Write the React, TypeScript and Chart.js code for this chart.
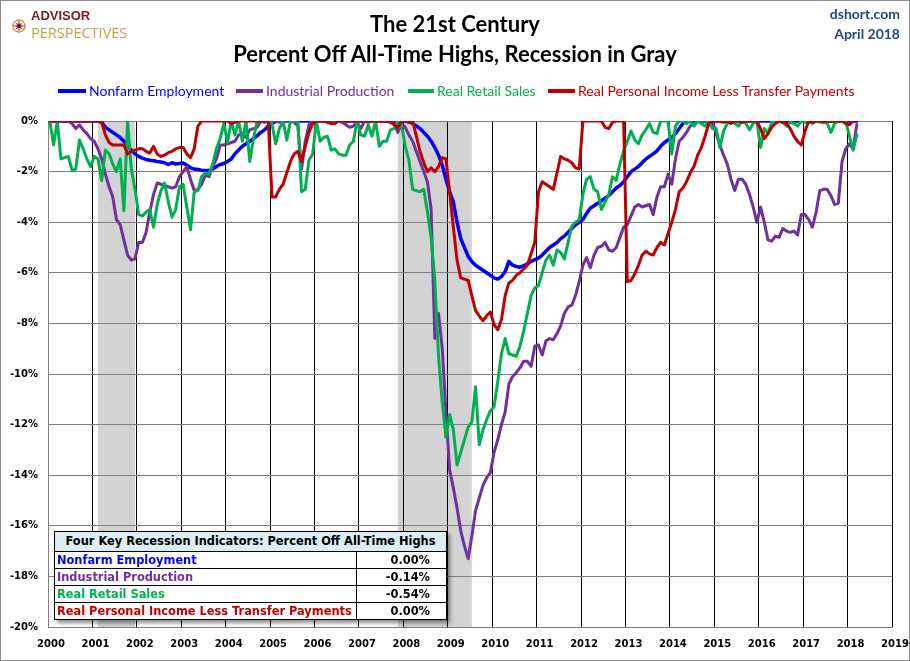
import React, { useEffect, useRef } from "react";
import { Chart, registerables } from "chart.js";

Chart.register(...registerables);

// ---------- DATA (monthly, Jan 2000 onward; each row = one year) ----------
const START_YEAR = 2000;

const nonfarmEmployment = [
  0, 0, 0, 0, 0, 0, 0, 0, 0, 0, 0, 0,
  0, 0, -0.05, -0.25, -0.35, -0.45, -0.55, -0.65, -0.8, -1.0, -1.15, -1.3,
  -1.4, -1.47, -1.52, -1.55, -1.57, -1.6, -1.62, -1.65, -1.72, -1.65, -1.7, -1.68,
  -1.66, -1.75, -1.85, -1.9, -1.92, -1.95, -1.96, -1.96, -1.9, -1.8, -1.72, -1.68,
  -1.6, -1.5, -1.3, -1.15, -1.0, -0.9, -0.8, -0.7, -0.58, -0.45, -0.35, -0.2,
  -0.1, -0.02, 0, 0, 0, 0, 0, 0, 0, 0, 0, 0,
  0, 0, 0, 0, 0, 0, 0, 0, 0, 0, 0, 0,
  0, 0, 0, 0, 0, 0, 0, 0, 0, 0, 0, 0,
  0, -0.03, -0.1, -0.2, -0.3, -0.45, -0.6, -0.8, -1.05, -1.35, -1.75, -2.3,
  -2.8, -3.2, -4.0, -4.65, -5.0, -5.35, -5.55, -5.7, -5.8, -5.9, -6.0, -6.1,
  -6.2, -6.25, -6.15, -5.95, -5.55, -5.7, -5.75, -5.78, -5.72, -5.65, -5.55, -5.48,
  -5.42, -5.3, -5.15, -5.0, -4.9, -4.8, -4.65, -4.55, -4.4, -4.25, -4.1, -4.0,
  -3.9, -3.65, -3.45, -3.35, -3.25, -3.15, -3.05, -2.95, -2.8, -2.65, -2.55, -2.4,
  -2.2, -2.0, -1.9, -1.8, -1.65, -1.5, -1.4, -1.3, -1.18, -1.0, -0.85, -0.75,
  -0.65, -0.5, -0.3, -0.1, -0.02, 0, 0, 0, 0, 0, 0, 0,
  0, 0, 0, 0, 0, 0, 0, 0, 0, 0, 0, 0,
  0, 0, 0, 0, 0, 0, 0, 0, 0, 0, 0, 0,
  0, 0, 0, 0, 0, 0, 0, 0, 0, 0, 0, 0,
  0, 0, 0,
];

const industrialProduction = [
  0, 0, 0, 0, 0, 0, -0.1, -0.3, -0.15, -0.35, -0.5, -0.7,
  -0.8, -1.1, -1.5, -2.1, -2.6, -3.0, -3.9, -4.1, -4.7, -5.3, -5.5, -5.45,
  -4.8, -4.8, -4.4, -3.6, -2.9, -2.45, -2.5, -2.55, -2.6, -2.65, -2.6, -2.2,
  -2.0, -1.8, -2.3, -2.75, -2.7, -2.5, -2.15, -2.2, -1.8, -1.5, -0.95, -0.95,
  -0.9, -0.85, -0.8, -0.55, -0.5, -0.65, -0.35, -0.3, -0.25, 0, -0.05, 0,
  0, 0, -0.05, 0, 0, 0, -0.05, -0.2, -1.9, -0.8, -0.15, 0,
  0, 0, 0, 0, 0, 0, 0, -0.05, -0.15, -0.25, -0.2, -0.05,
  -0.3, 0, -0.05, 0, 0, 0, 0, 0, 0, -0.1, -0.45, -0.1,
  -0.25, -0.55, -0.8, -1.2, -1.6, -2.0, -2.4, -3.5, -8.6, -7.6, -9.0, -11.5,
  -13.8, -14.5, -15.3, -16.2, -16.8, -17.3, -16.4, -15.4, -14.9, -14.4, -14.1, -13.9,
  -13.1, -12.6, -12.0, -11.5, -10.4, -10.1, -9.95, -9.75, -9.5, -9.5, -9.7, -8.9,
  -8.85, -9.25, -8.7, -8.6, -8.65, -8.4, -8.1, -7.6, -7.35, -7.28, -6.9, -6.35,
  -5.7, -5.4, -5.8, -5.3, -5.0, -4.95, -4.8, -5.1, -5.15, -5.0, -4.6, -4.2,
  -4.1, -3.75, -3.4, -3.3, -3.4, -3.35, -3.3, -3.7, -3.0, -2.6, -2.6, -2.1,
  -2.5, -1.5, -0.8, -0.65, -0.45, -0.2, -0.1, 0, 0, 0, -0.05, 0,
  -0.5, -0.95, -1.35, -1.7, -2.3, -2.75, -2.3, -2.3, -2.5, -2.9, -3.4, -4.0,
  -3.4, -4.0, -4.7, -4.75, -4.55, -4.6, -4.25, -4.35, -4.4, -4.35, -4.5, -3.7,
  -3.7, -3.9, -4.2, -3.6, -2.75, -2.7, -2.7, -2.95, -3.3, -3.25, -1.6, -1.1,
  -0.9, -1.1, -0.14,
];

const realRetailSales = [
  0, -0.95, 0, -1.5, -1.45, -1.4, -1.95, -1.9, -0.75, -1.1, -1.5, -1.8,
  -1.4, -1.5, -2.35, -1.15, -1.3, -1.7, -2.0, -1.5, -3.55, 0, -1.9, -2.7,
  -3.7, -3.75, -3.6, -3.5, -4.2, -3.3, -2.75, -2.45, -3.2, -3.8, -3.5, -2.6,
  -2.5, -3.4, -4.3, -2.8, -2.75, -2.2, -2.05, -2.1, -1.7, -1.1, -0.7, -0.1,
  -0.85, 0, -0.55, 0, -0.8, 0, -1.6, -0.7, 0, 0, 0, 0,
  -0.1, -0.9, -0.3, 0, -0.75, 0, 0, 0, -2.8, -2.7, -1.55, -1.3,
  0, -0.8, -0.65, -0.6, -1.15, -1.1, -1.3, -1.35, -1.35, -0.95, -0.8, 0,
  -0.55, -0.6, -0.15, -0.6, 0, -1.0, -0.8, -0.8, -0.35, -0.3, 0, -0.15,
  -1.0, -1.55, -2.7, -2.75, -2.8, -2.7, -3.6, -4.6, -6.3, -9.3, -11.1, -12.5,
  -11.6, -12.2, -13.6, -13.1, -12.6, -12.1, -11.9, -10.5, -12.8, -12.2, -11.8, -11.45,
  -11.3, -10.3, -9.2, -8.6, -9.2, -9.25, -9.3, -8.9, -8.3, -7.6, -6.9, -6.6,
  -6.5, -6.0, -5.5, -5.3, -5.7, -5.1, -5.2, -5.45, -4.8, -4.15, -4.0, -3.9,
  -2.9, -2.3, -2.2, -2.7, -2.8, -3.5, -3.2, -2.9, -2.2, -2.35, -1.7, -1.2,
  -0.8, -0.4, -0.75, -0.9, -0.55, -0.35, -0.1, -0.45, -0.5, 0, 0, 0,
  -1.3, -0.2, 0, 0, -0.1, 0, -0.2, 0, -0.1, -0.2, 0, -0.3,
  -0.3, -1.05, -0.4, -0.1, 0, -0.1, -0.2, 0, -0.1, -0.35, -0.1, 0,
  -1.05, -0.3, -0.5, -0.05, 0, 0, -0.05, -0.2, -0.05, -0.1, -0.2, 0,
  -0.05, 0, -0.1, 0, -0.05, 0, -0.1, -0.45, -0.1, 0, 0, 0,
  -0.6, -1.15, -0.54,
];

const realIncomeLessTransfers = [
  0, 0, 0, 0, 0, 0, 0, 0, 0, 0, 0, 0,
  0, 0, -0.05, -0.55, -0.85, -0.95, -0.95, -0.95, -0.95, -1.3, -1.2, -1.15,
  -1.1, -1.1, -1.2, -1.27, -1.0, -1.3, -1.4, -1.35, -1.25, -1.2, -1.1, -1.05,
  -1.05, -1.3, -1.45, -1.1, -0.2, 0, 0, 0, 0, 0, 0, 0,
  0, -0.1, -0.05, 0, 0, 0, 0, 0, 0, 0, 0, 0,
  -3.0, -3.0, -2.7, -2.5, -2.05, -1.6, -1.3, -1.2, -1.6, -1.0, -0.45, -0.1,
  0, 0, 0, -0.05, -0.1, -0.1, 0, 0, 0, 0, 0, 0,
  0, 0, 0, 0, 0, 0, 0, 0, -0.05, -0.15, -0.25, 0,
  0, -0.05, 0, -0.6, -1.2, -1.65, -2.0, -1.85, -2.0, -1.8, -1.45, -1.5,
  -2.8, -4.2, -5.5, -6.2, -6.25, -6.3, -6.9, -7.5, -7.7, -7.9, -7.7, -7.55,
  -8.05, -8.25, -7.85, -6.9, -6.4, -6.3, -6.1, -6.0, -5.85, -5.7, -5.25, -4.8,
  -2.8, -2.4, -2.5, -2.6, -2.7, -2.05, -1.4, -1.5, -1.55, -1.65, -1.85, -1.9,
  0, 0, 0, 0, 0, 0, -0.25, -0.3, -0.05, 0, 0, 0,
  -6.35, -6.3, -6.05, -5.7, -5.3, -5.15, -5.25, -5.3, -5.0, -4.8, -4.9, -4.45,
  -4.0, -3.5, -2.8, -2.65, -2.4, -2.05, -1.8, -1.35, -1.05, -0.6, -0.1, 0,
  0, 0, -0.05, 0, -0.1, 0, 0, -0.05, 0, 0, 0, 0,
  -0.3, -0.7, -0.5, -0.25, -0.1, 0, -0.05, -0.1, -0.3, -0.6, -0.8, -0.95,
  -0.4, 0, -0.05, 0, 0, -0.05, 0, 0, 0, 0, 0, -0.1,
  -0.15, 0,
];

const seriesNames = [
  "Nonfarm Employment",
  "Industrial Production",
  "Real Retail Sales",
  "Real Personal Income Less Transfer Payments",
];
const seriesColors = ["#0000FF", "#7030A0", "#00B050", "#C00000"];
const latestValues = ["0.00%", "-0.14%", "-0.54%", "0.00%"];

// recession months (first month, last month)
const recessions = [
  ["2001-03", "2001-11"],
  ["2007-12", "2009-06"],
];

const yearTicks = [
  2000, 2001, 2002, 2003, 2004, 2005, 2006, 2007, 2008, 2009,
  2010, 2011, 2012, 2013, 2014, 2015, 2016, 2017, 2018, 2019,
];
const yMin = -20;
const yMax = 0;
const yStep = 2;

// ---------- helpers ----------
const toPoints = (arr: number[]) =>
  arr.map((v, i) => ({ x: START_YEAR + (i + 0.5) / 12, y: v }));
const monthStart = (s: string) => {
  const [y, m] = s.split("-").map(Number);
  return y + (m - 1) / 12;
};

const recessionPlugin = {
  id: "recessionShade",
  beforeDraw(chart: any) {
    const { ctx, chartArea, scales } = chart;
    const xs = scales.x;
    ctx.save();
    ctx.fillStyle = "#D3D3D3";
    for (const [s, e] of recessions) {
      const x1 = xs.getPixelForValue(monthStart(s) - 1 / 24);
      const x2 = xs.getPixelForValue(monthStart(e) + 1 / 12 + 1 / 24);
      ctx.fillRect(x1, chartArea.top, x2 - x1, chartArea.bottom - chartArea.top);
    }
    ctx.restore();
  },
};

const TICK_FONT = { family: "'DejaVu Sans', Verdana, sans-serif", size: 10, weight: "bold" as const };

function Logo() {
  const pts: string[] = [];
  for (let k = 0; k < 16; k++) {
    const r = k % 2 === 0 ? (k % 4 === 0 ? 6.2 : 4.2) : 1.6;
    const a = (k * Math.PI) / 8 - Math.PI / 2;
    pts.push(`${(7 + r * Math.cos(a)).toFixed(2)},${(7 + r * Math.sin(a)).toFixed(2)}`);
  }
  return (
    <div style={{ position: "absolute", left: 11, top: 8, display: "flex", alignItems: "center" }}>
      <svg width="16" height="16" viewBox="0 0 14 14" style={{ marginRight: 4, marginTop: 1 }}>
        <circle cx="7" cy="7" r="5.3" fill="none" stroke="#C9A245" strokeWidth="1.3" />
        <polygon points={pts.join(" ")} fill="#7E1820" />
      </svg>
      <div style={{ lineHeight: "12px" }}>
        <div style={{ font: "bold 13px 'Liberation Sans', Arial, sans-serif", color: "#7E1820" }}>ADVISOR</div>
        <div style={{ font: "14.5px 'Open Sans', sans-serif", color: "#C9A245", letterSpacing: 0 }}>PERSPECTIVES</div>
      </div>
    </div>
  );
}

export default function App() {
  const ref = useRef<HTMLCanvasElement>(null);

  useEffect(() => {
    if (!ref.current) return;
    const order = [3, 2, 1, 0]; // later series drawn on top (first dataset is topmost)
    const arrays = [nonfarmEmployment, industrialProduction, realRetailSales, realIncomeLessTransfers];
    const chart = new Chart(ref.current, {
      type: "line",
      data: {
        datasets: order.map((k) => ({
          label: seriesNames[k],
          data: toPoints(arrays[k]),
          borderColor: seriesColors[k],
          backgroundColor: seriesColors[k],
          borderWidth: k === 0 ? 3.5 : 3,
          pointRadius: 0,
          tension: 0,
          fill: false,
          borderJoinStyle: "round" as const,
          borderCapStyle: "round" as const,
        })),
      },
      options: {
        animation: false,
        responsive: false,
        devicePixelRatio: 1,
        layout: { padding: { left: 0, right: 18, top: 121, bottom: 0 } },
        plugins: {
          legend: { display: false },
          title: { display: false },
          tooltip: { enabled: false },
        },
        scales: {
          x: {
            type: "linear",
            min: yearTicks[0],
            max: yearTicks[yearTicks.length - 1],
            afterFit: (s: any) => {
              s.height = 34;
              s.paddingLeft = 0;
              s.paddingRight = 0;
            },
            afterBuildTicks: (s: any) => {
              s.ticks = yearTicks.map((v) => ({ value: v }));
            },
            ticks: {
              autoSkip: false,
              maxRotation: 0,
              padding: 11,
              labelOffset: 3,
              color: "#000",
              font: TICK_FONT,
              callback: (v: any) => String(v),
            },
            grid: {
              drawTicks: false,
              lineWidth: 1,
              color: (c: any) => (c.tick && c.tick.value === yearTicks[0] ? "#808080" : "#000000"),
            },
            border: { color: "#808080" },
          },
          y: {
            min: yMin,
            max: yMax,
            afterFit: (s: any) => {
              s.width = 48;
              s.paddingTop = 0;
              s.paddingBottom = 0;
            },
            ticks: {
              stepSize: yStep,
              padding: 10,
              color: "#000",
              font: TICK_FONT,
              callback: (v: any) => `${v}%`,
            },
            grid: { drawTicks: false, color: "#808080", lineWidth: 1 },
            border: { color: "#808080" },
          },
        },
      },
      plugins: [recessionPlugin],
    });
    return () => chart.destroy();
  }, []);

  const legendPos = [
    { line: 58, text: 89 },
    { line: 236, text: 266 },
    { line: 408, text: 437 },
    { line: 548, text: 578 },
  ];

  return (
    <div style={{ position: "fixed", left: 0, top: 0, width: 910, height: 661, background: "#fff", overflow: "hidden" }}>
      <canvas ref={ref} width={910} height={661} style={{ position: "absolute", left: 0, top: 0, width: 910, height: 661 }} />

      <Logo />

      <div
        style={{
          position: "absolute",
          left: 0,
          top: 9,
          width: 910,
          textAlign: "center",
          font: "bold 22px Lato, 'Open Sans', sans-serif",
          lineHeight: "30px",
          color: "#000",
        }}
      >
        <div>The 21st Century</div>
        <div>Percent Off All-Time Highs, Recession in Gray</div>
      </div>

      <div
        style={{
          position: "absolute",
          right: 10,
          top: 4,
          textAlign: "right",
          font: "bold 14px Lato, 'Open Sans', sans-serif",
          lineHeight: "20px",
          color: "#1F497D",
        }}
      >
        <div>dshort.com</div>
        <div>April 2018</div>
      </div>

      {seriesNames.map((name, k) => (
        <div key={name}>
          <div
            style={{
              position: "absolute",
              left: legendPos[k].line,
              top: 89,
              width: legendPos[k].text - legendPos[k].line - 3,
              height: 4,
              background: seriesColors[k],
            }}
          />
          <div
            style={{
              position: "absolute",
              left: legendPos[k].text,
              top: 82,
              font: "14px Lato, 'Open Sans', sans-serif",
              lineHeight: "18px",
              color: seriesColors[k],
              whiteSpace: "nowrap",
            }}
          >
            {name}
          </div>
        </div>
      ))}

      <div
        style={{
          position: "absolute",
          left: 54,
          top: 531,
          width: 391,
          border: "1px solid #000",
          background: "#fff",
          boxShadow: "3px 3px 4px rgba(0,0,0,0.45)",
          font: "bold 11.4px 'DejaVu Sans', Verdana, sans-serif",
        }}
      >
        <div
          style={{
            height: 19,
            lineHeight: "19px",
            background: "#DAEEF3",
            textAlign: "center",
            color: "#000",
            borderBottom: "1px solid #000",
            whiteSpace: "nowrap",
          }}
        >
          Four Key Recession Indicators: Percent Off All-Time Highs
        </div>
        {seriesNames.map((name, k) => (
          <div
            key={name}
            style={{
              display: "flex",
              height: 16,
              lineHeight: "16px",
              borderBottom: k < seriesNames.length - 1 ? "1px solid #000" : "none",
            }}
          >
            <div
              style={{
                width: 299,
                paddingLeft: 2,
                borderRight: "1px solid #000",
                color: seriesColors[k],
                whiteSpace: "nowrap",
                overflow: "hidden",
              }}
            >
              {name}
            </div>
            <div style={{ flex: 1, textAlign: "right", paddingRight: 16, color: "#000" }}>{latestValues[k]}</div>
          </div>
        ))}
      </div>

      <div style={{ position: "absolute", left: 0, top: 0, width: 910, height: 661, boxSizing: "border-box", border: "1px solid #8C8C8C", pointerEvents: "none" }} />
    </div>
  );
}
